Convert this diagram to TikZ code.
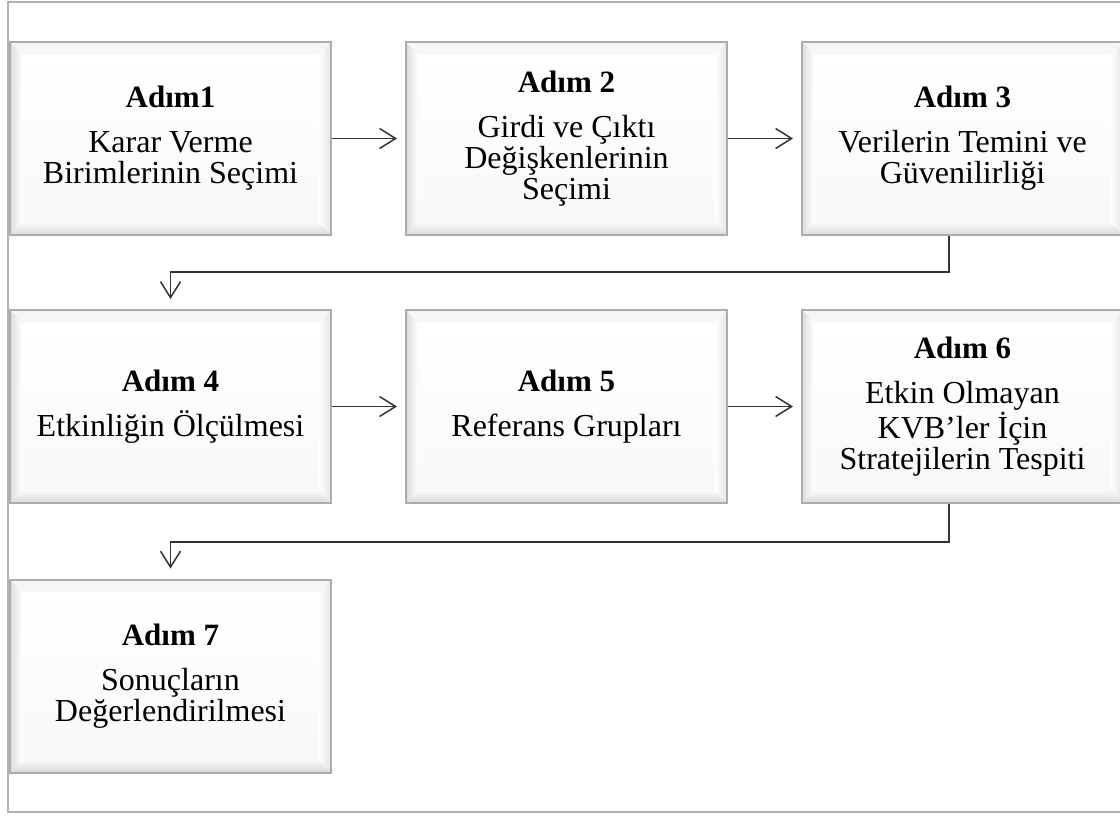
\documentclass[tikz,border=0pt]{standalone}
\usepackage{fontspec}
\setmainfont{Liberation Serif}
\usetikzlibrary{arrows.meta}
\tikzset{
    stepbox/.style={rectangle, draw=gray!65, line width=1pt, minimum width=160.5pt,
        minimum height=96.5pt, inner sep=0pt, align=center,
        font=\fontsize{16}{15.5}\selectfont,
        path picture={
            \coordinate (bl) at (path picture bounding box.south west);
            \coordinate (tr) at (path picture bounding box.north east);
            \coordinate (tl) at (bl|-tr);
            \coordinate (br) at (tr|-bl);
            \coordinate (ibl) at ([shift={(6pt,6pt)}]bl);
            \coordinate (itl) at ([shift={(6pt,-6pt)}]tl);
            \coordinate (itr) at ([shift={(-6pt,-6pt)}]tr);
            \coordinate (ibr) at ([shift={(-6pt,6pt)}]br);
            \shade[top color=white, bottom color=gray!5] (ibl) rectangle (itr);
            \fill[gray!7] (tl) -- (tr) -- (itr) -- (itl) -- cycle;
            \shade[left color=gray!28, right color=white] (bl) -- (tl) -- (itl) -- (ibl) -- cycle;
            \shade[left color=white, right color=gray!22] (br) -- (tr) -- (itr) -- (ibr) -- cycle;
            \shade[top color=gray!6, bottom color=gray!30] (bl) -- (br) -- (ibr) -- (ibl) -- cycle;
        }},
    conn/.style={draw=black!80, line width=0.75pt, -{Straight Barb[length=8pt,width=10pt]}}
}
\newcommand{\steptitle}[1]{\textbf{\fontsize{15.5}{18}\selectfont #1}\\[7pt]}
\begin{document}
\begin{tikzpicture}[x=0.5pt,y=-0.5pt]
    \useasboundingbox (0,0) rectangle (1120,815);
    \draw[gray!60, line width=0.75pt] (8,2) rectangle (1130,812);
    \node[stepbox] (s1) at (170.5,138.5) {\steptitle{Adım1}Karar Verme\\Birimlerinin Seçimi};
    \node[stepbox] (s2) at (566.5,138.5) {\steptitle{Adım 2}Girdi ve Çıktı\\Değişkenlerinin\\Seçimi};
    \node[stepbox] (s3) at (962.5,138.5) {\steptitle{Adım 3}Verilerin Temini ve\\Güvenilirliği};
    \node[stepbox] (s4) at (170.5,406.5) {\steptitle{Adım 4}Etkinliğin Ölçülmesi};
    \node[stepbox] (s5) at (566.5,406.5) {\steptitle{Adım 5}Referans Grupları};
    \node[stepbox] (s6) at (962.5,406.5) {\steptitle{Adım 6}Etkin Olmayan\\KVB'ler İçin\\Stratejilerin Tespiti};
    \node[stepbox] (s7) at (170.5,676) {\steptitle{Adım 7}Sonuçların\\Değerlendirilmesi};
    \draw[conn, shorten >=4pt] (s1) -- (s2);
    \draw[conn, shorten >=4pt] (s2) -- (s3);
    \draw[conn, shorten >=4pt] (s4) -- (s5);
    \draw[conn, shorten >=4pt] (s5) -- (s6);
    \draw[conn, shorten >=5pt] ([xshift=-6.75pt]s3.south) -- ++(0,-18pt) -| (s4.north);
    \draw[conn, shorten >=5pt] ([xshift=-6.75pt]s6.south) -- ++(0,-19pt) -| (s7.north);
\end{tikzpicture}
\end{document}
